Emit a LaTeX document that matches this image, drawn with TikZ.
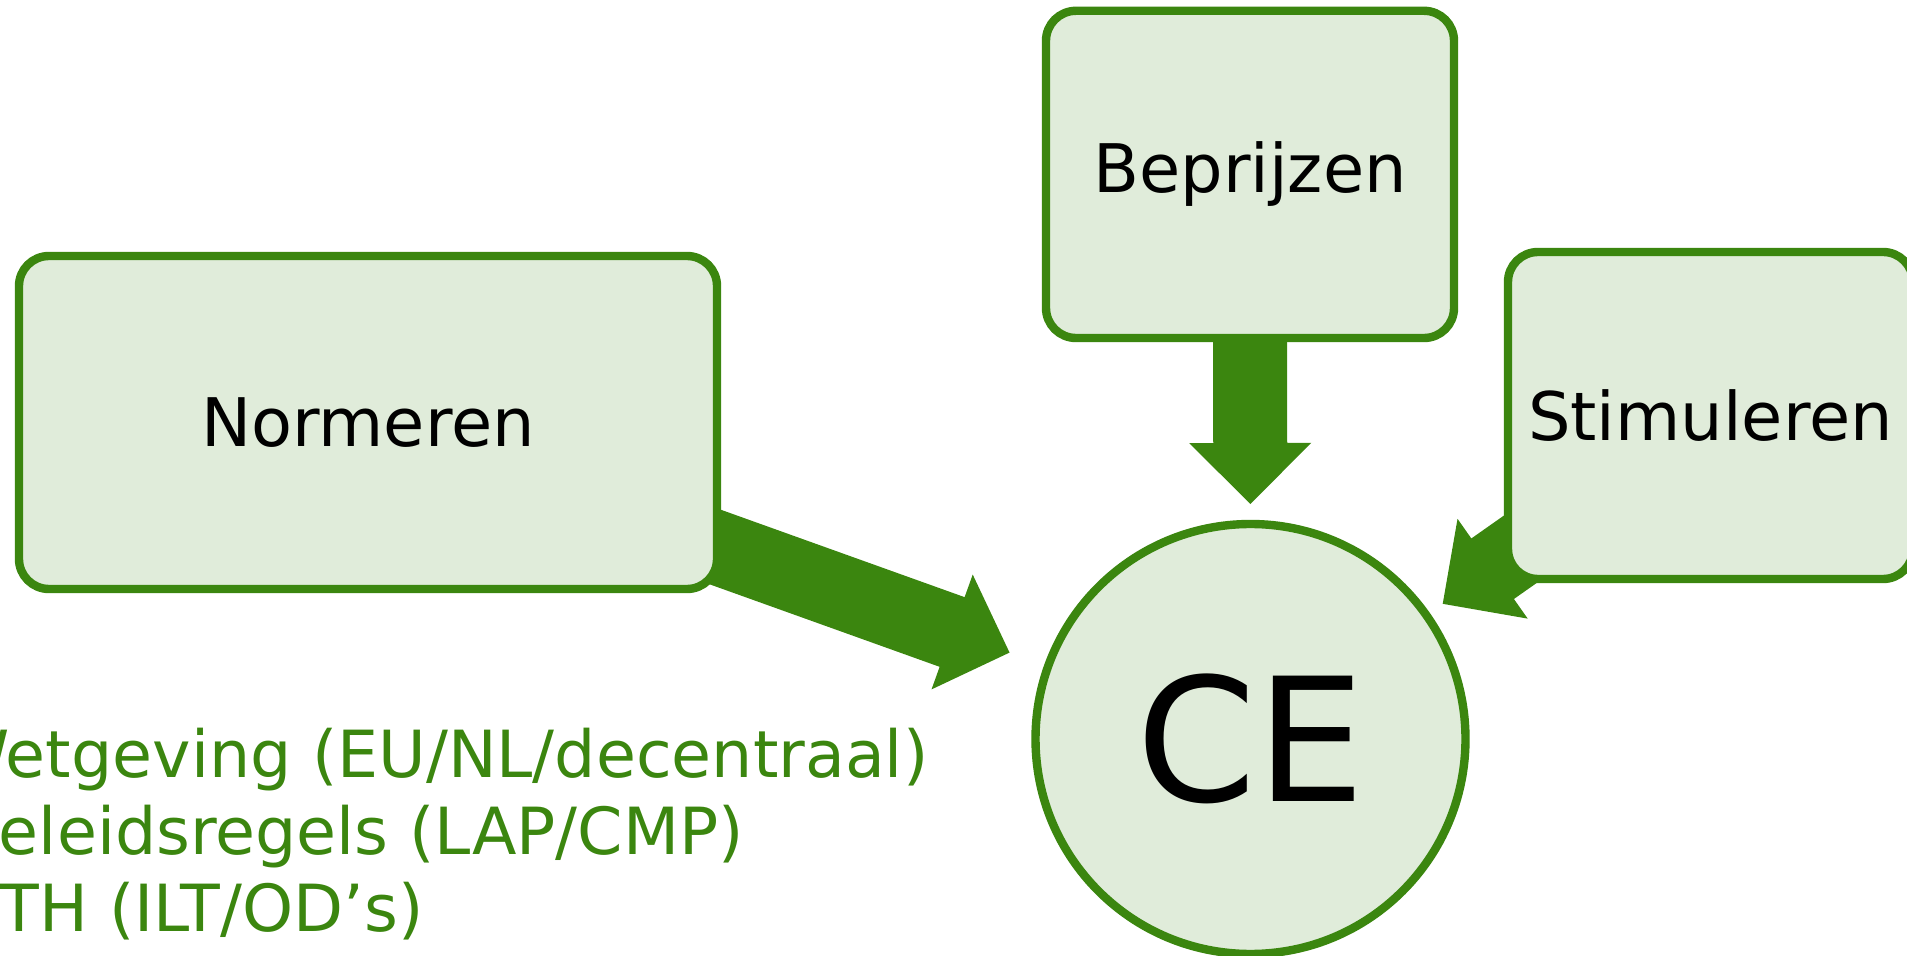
\documentclass[tikz,border=0pt]{standalone}
\usepackage{fontspec}
\setmainfont{DejaVu Sans}
\usetikzlibrary{calc}
\definecolor{cegreen}{RGB}{59,134,15}
\definecolor{celight}{RGB}{224,236,218}
\pgfdeclarelayer{bg}
\pgfsetlayers{bg,main}
\newcommand\blockarrow[2]{%
  \coordinate (ah) at ($(#2)!30.5pt!(#1)$);
  \fill[arrowfill] ($(#1)!18.5pt!90:(#2)$) -- ($(ah)!18.5pt!90:(#2)$) -- ($(ah)!30.5pt!90:(#2)$) -- (#2)
    -- ($(ah)!30.5pt!-90:(#2)$) -- ($(ah)!18.5pt!-90:(#2)$) -- ($(#1)!18.5pt!-90:(#2)$) -- cycle;}
\begin{document}
\begin{tikzpicture}[x=0.5pt,y=-0.5pt,
  box/.style={draw=cegreen, fill=celight, line width=4.2pt, rounded corners=15pt,
    inner sep=0pt, text=black, font=\fontsize{33.5}{40}\selectfont},
  cebox/.style={circle, draw=cegreen, fill=celight, line width=4.2pt, inner sep=0pt,
    minimum size=215pt, text=black, font=\fontsize{86}{100}\selectfont},
  listtext/.style={anchor=base west, inner sep=0pt, text=cegreen, font=\fontsize{32.5}{39}\selectfont},
  arrowfill/.style={fill=cegreen}]
\useasboundingbox (0,0) rectangle (1907,956);
\clip (0,0) rectangle (1907,956);
\node[box, minimum width=349pt, minimum height=166.5pt] (norm) at (368,422.5) {Normeren};
\node[box, minimum width=204pt, minimum height=163.6pt] (bep) at (1250,174.4) {Beprijzen};
\node[box, minimum width=202.5pt, minimum height=163.5pt] (stim) at (1710.5,415.5) {Stimuleren};
\node[cebox] (ce) at (1250.5,739) {CE};
\coordinate (tipN) at ($(ce.center)!128pt!(norm.center)$);
\coordinate (tipB) at ($(ce.center)!117.5pt!(bep.center)$);
\coordinate (tipS) at ($(ce.center)!117.5pt!(stim.center)$);
\begin{pgfonlayer}{bg}
\blockarrow{norm.center}{tipN}
\blockarrow{bep.center}{tipB}
\blockarrow{stim.center}{tipS}
\end{pgfonlayer}
\node[listtext] (l1) at (-55,777) {Wetgeving (EU/NL/decentraal)};
\node[listtext] (l2) at (-46,854) {Beleidsregels (LAP/CMP)};
\node[listtext] (l3) at (-45,931) {VTH (ILT/OD’s)};
\end{tikzpicture}
\end{document}
